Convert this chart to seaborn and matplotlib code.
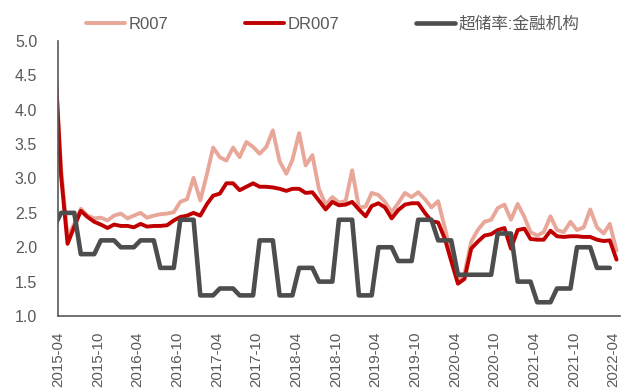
import numpy as np
import pandas as pd
import matplotlib
matplotlib.use("Agg")
import matplotlib.pyplot as plt
import matplotlib.dates as mdates
import seaborn as sns

# Monthly observations, dated mid-month (2015-03 … 2022-04)
months = pd.date_range("2015-03-01", "2022-04-01", freq="MS") + pd.Timedelta(days=14)

r007 = [4.90, 3.15, 2.15, 2.34, 2.56, 2.46, 2.42, 2.43, 2.39, 2.46,
        2.49, 2.42, 2.46, 2.50, 2.43, 2.46, 2.48, 2.49, 2.51, 2.66,
        2.70, 3.01, 2.68, 3.07, 3.45, 3.31, 3.26, 3.45, 3.31, 3.53,
        3.46, 3.36, 3.46, 3.70, 3.25, 3.07, 3.27, 3.66, 3.19, 3.34,
        2.85, 2.62, 2.73, 2.65, 2.67, 3.12, 2.58, 2.59, 2.79, 2.76,
        2.66, 2.51, 2.64, 2.79, 2.73, 2.80, 2.70, 2.58, 2.67, 2.28,
        1.88, 1.52, 1.62, 2.08, 2.25, 2.37, 2.40, 2.57, 2.62, 2.40,
        2.63, 2.44, 2.22, 2.17, 2.22, 2.45, 2.25, 2.22, 2.37, 2.25,
        2.29, 2.55, 2.29, 2.20, 2.34, 1.95]

dr007 = [4.90, 3.05, 2.05, 2.30, 2.53, 2.44, 2.37, 2.33, 2.28, 2.33,
         2.31, 2.31, 2.29, 2.34, 2.30, 2.31, 2.31, 2.32, 2.39, 2.44,
         2.46, 2.50, 2.46, 2.63, 2.75, 2.78, 2.93, 2.93, 2.83, 2.88,
         2.93, 2.88, 2.88, 2.87, 2.85, 2.82, 2.85, 2.85, 2.79, 2.80,
         2.68, 2.55, 2.66, 2.61, 2.62, 2.66, 2.55, 2.45, 2.60, 2.64,
         2.58, 2.42, 2.54, 2.62, 2.64, 2.64, 2.50, 2.38, 2.36, 2.12,
         1.80, 1.47, 1.54, 1.98, 2.08, 2.17, 2.19, 2.25, 2.28, 1.98,
         2.25, 2.27, 2.12, 2.11, 2.11, 2.24, 2.16, 2.15, 2.16, 2.16,
         2.15, 2.15, 2.11, 2.09, 2.10, 1.82]

# Excess reserve ratio of financial institutions (quarterly, held for each month)
excess_reserve = [2.3,
                  2.5, 2.5, 2.5, 1.9, 1.9, 1.9, 2.1, 2.1, 2.1,
                  2.0, 2.0, 2.0, 2.1, 2.1, 2.1, 1.7, 1.7, 1.7, 2.4, 2.4, 2.4,
                  1.3, 1.3, 1.3, 1.4, 1.4, 1.4, 1.3, 1.3, 1.3, 2.1, 2.1, 2.1,
                  1.3, 1.3, 1.3, 1.7, 1.7, 1.7, 1.5, 1.5, 1.5, 2.4, 2.4, 2.4,
                  1.3, 1.3, 1.3, 2.0, 2.0, 2.0, 1.8, 1.8, 1.8, 2.4, 2.4, 2.4,
                  2.1, 2.1, 2.1, 1.6, 1.6, 1.6, 1.6, 1.6, 1.6, 2.2, 2.2, 2.2,
                  1.5, 1.5, 1.5, 1.2, 1.2, 1.2, 1.4, 1.4, 1.4, 2.0, 2.0, 2.0,
                  1.7, 1.7, 1.7, np.nan]

series_names = ["R007", "DR007", "超储率:金融机构"]
series_colors = ["#E8A799", "#C00000", "#4D4D4D"]
series_widths = [2.8, 2.8, 3.3]

y_ticks = [1.0, 1.5, 2.0, 2.5, 3.0, 3.5, 4.0, 4.5, 5.0]

sns.set_theme(style="white")
plt.rcParams["font.family"] = ["Liberation Sans", "Noto Sans CJK SC", "DejaVu Sans"]

TEXT = "#595959"

fig = plt.figure(figsize=(6.25, 3.92), dpi=100)
ax = fig.add_axes([58 / 625, 1 - 316 / 392, 562 / 625, 275 / 392])

for name, vals, col, lw in zip(series_names, [r007, dr007, excess_reserve],
                               series_colors, series_widths):
    sns.lineplot(x=months, y=vals, color=col, linewidth=lw, label=name, ax=ax)

ax.set_xlim(pd.Timestamp("2015-04-01"), pd.Timestamp("2022-05-01"))
ax.set_ylim(1.0, 5.0)
ax.set_yticks(y_ticks)
ax.set_yticklabels([f"{v:.1f}" for v in y_ticks])
ax.xaxis.set_major_locator(mdates.MonthLocator(bymonth=(4, 10)))
ax.xaxis.set_major_formatter(mdates.DateFormatter("%Y-%m"))
ax.set_xlabel("")
ax.set_ylabel("")

for side in ("top", "right"):
    ax.spines[side].set_visible(False)
for side in ("left", "bottom"):
    ax.spines[side].set_color(TEXT)
    ax.spines[side].set_linewidth(1.2)

ax.tick_params(axis="x", direction="in", length=5, width=1.1, color=TEXT,
               labelcolor=TEXT, labelsize=10.8, pad=11, labelrotation=90)
ax.tick_params(axis="y", direction="in", length=5, width=1.1, color=TEXT,
               labelcolor=TEXT, labelsize=11.5, pad=15)
ax.grid(False)

handles, labels = ax.get_legend_handles_labels()
ax.get_legend().remove()
fig.legend(handles, labels, loc="center", bbox_to_anchor=(333 / 625, 1 - 24 / 392),
           ncol=3, frameon=False, fontsize=12, labelcolor=TEXT,
           handlelength=2.3, handletextpad=0.25, columnspacing=4.6,
           borderpad=0, borderaxespad=0)

fig.savefig("out.png", dpi=100)
